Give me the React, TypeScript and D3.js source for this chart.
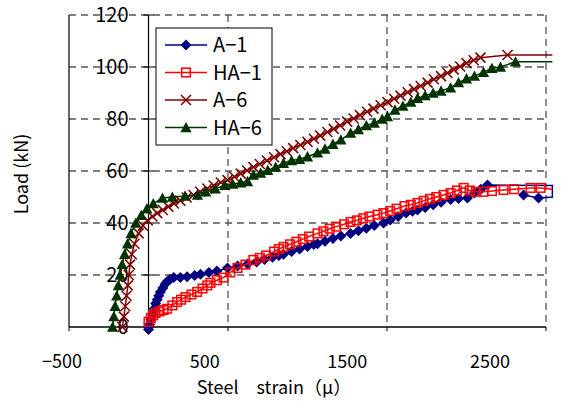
import * as d3 from "d3";

// strain (μ) , load (kN)
const a1X = [0, 8, 15, 25, 35, 45, 55, 65, 75, 90, 105, 117, 135, 159, 200, 243, 290, 327, 380, 430, 497, 560, 623, 680, 730, 780, 820, 849, 900, 950, 1000, 1040, 1063, 1110, 1160, 1210, 1271, 1320, 1370, 1420, 1478, 1520, 1570, 1620, 1660, 1692, 1740, 1790, 1840, 1900, 1950, 2006, 2050, 2090, 2132, 2540, 2540, 2453, 2359];
const a1Y = [-1, 1, 3, 5, 7, 9, 10.5, 12, 13.5, 15, 16.5, 17.5, 18.3, 19, 19, 19.3, 19.8, 20.3, 21, 21.5, 22.7, 23.5, 24.2, 25, 26, 26.8, 27.5, 28, 29, 30, 31, 31.7, 32, 33, 34, 35, 36, 37, 38, 39, 40, 41.2, 42.5, 43.8, 44.5, 45, 46, 47, 48, 49, 49.4, 49.6, 51.5, 53, 54.6, 54.4, 50, 49.6, 50.8];

const ha1X = [0, 15, 30, 44, 70, 95, 117, 150, 180, 205, 233, 270, 306, 340, 370, 390, 430, 472, 515, 560, 610, 660, 700, 740, 790, 820, 849, 890, 930, 970, 1010, 1063, 1100, 1140, 1180, 1230, 1271, 1310, 1350, 1390, 1440, 1478, 1520, 1560, 1610, 1650, 1692, 1730, 1770, 1810, 1856, 1900, 1940, 1982, 2020, 2060, 2107, 2160, 2233, 2300, 2403, 2466, 2540];
const ha1Y = [2, 3.5, 4.5, 5.4, 6, 6.5, 7, 8.3, 9.6, 10.5, 11.5, 12.5, 13.5, 14.8, 16, 17, 18, 19, 21, 22.7, 24, 25.8, 26.6, 27.5, 29, 30, 30.8, 31.8, 32.8, 33.8, 34.8, 36, 36.8, 37.8, 38.6, 39.5, 40.4, 41, 41.8, 42.5, 43.2, 43.8, 44.6, 45.5, 46.5, 47, 47.7, 48.5, 49.3, 50, 50.8, 51.5, 52.5, 53.5, 52.5, 52, 52, 52.3, 52.7, 53, 53.5, 53.5, 53];

const a6X = [-164, -155, -146, -138, -130, -124, -116, -105, -88, -62, -35, -5, 25, 55, 90, 125, 160, 200, 240, 283, 325, 370, 410, 455, 497, 540, 580, 620, 660, 700, 745, 790, 830, 870, 910, 955, 1000, 1040, 1080, 1125, 1165, 1205, 1250, 1290, 1330, 1375, 1415, 1460, 1503, 1545, 1585, 1630, 1670, 1712, 1755, 1795, 1840, 1880, 1920, 1960, 2000, 2045, 2088, 2258, 2540];
const a6Y = [0, 4, 8, 12, 16, 20, 24, 28, 32, 36, 39, 41, 42.5, 43.8, 45, 46.3, 47.5, 48.6, 49.8, 50.8, 52, 53.3, 54.4, 55.6, 56.5, 57.8, 59, 60.2, 61.5, 62.7, 64, 65.3, 66.5, 67.6, 68.8, 70, 71.2, 72.4, 73.6, 75, 76.2, 77.5, 79, 80.2, 81.5, 82.8, 84, 85.3, 86.5, 87.8, 89, 90.3, 91.5, 92.7, 94, 95.3, 96.5, 97.7, 99, 100.2, 101.5, 102.6, 103.6, 104.6, 104.6];

const ha6X = [-226, -218, -210, -200, -190, -178, -166, -150, -132, -110, -80, -45, -10, 30, 88, 150, 230, 308, 360, 420, 480, 530, 580, 623, 660, 705, 750, 800, 849, 900, 950, 1000, 1063, 1110, 1160, 1210, 1271, 1320, 1370, 1420, 1470, 1503, 1550, 1600, 1650, 1692, 1740, 1790, 1840, 1900, 1950, 2000, 2050, 2107, 2160, 2214, 2308, 2540];
const ha6Y = [0, 4, 8, 12, 16, 20, 24, 28, 32, 36, 40, 43, 45.5, 47.5, 49.6, 50, 50.4, 50.8, 52, 53.2, 54.5, 55, 55.5, 56, 58.5, 59.2, 60.3, 61.5, 63, 64, 64.5, 65.5, 67, 68.5, 70.3, 72, 74.6, 76, 77.5, 78.5, 80, 81, 83.5, 85, 86.5, 88, 89, 90, 90.8, 92, 94, 95.5, 96.5, 98, 99.5, 100, 102, 102];

const seriesNames = ["A-1", "HA-1", "A-6", "HA-6"];
const xTicks = [-500, 500, 1500, 2500];
const yTicks = [0, 20, 40, 60, 80, 100, 120];

const series = [
  { name: seriesNames[0], xs: a1X, ys: a1Y, color: "#000080", marker: "diamond" },
  { name: seriesNames[1], xs: ha1X, ys: ha1Y, color: "#ff0000", marker: "square" },
  { name: seriesNames[2], xs: a6X, ys: a6Y, color: "#800000", marker: "cross" },
  { name: seriesNames[3], xs: ha6X, ys: ha6Y, color: "#003300", marker: "triangle" },
];

const W = 579;
const H = 410;
const left = 69, right = 546, top = 15, bottom = 327;
const font = "'Noto Sans CJK JP', 'DejaVu Sans', sans-serif";

const x = d3.scaleLinear().domain([-500, 2500]).range([left, right]);
const y = d3.scaleLinear().domain([0, 120]).range([bottom, top]);
// tick labels sit slightly left of their grid lines in the original
const xLab = d3.scaleLinear().domain([-500, 2500]).range([62, 490]);

function Marker({ kind, cx, cy, color }: { kind: string; cx: number; cy: number; color: string }) {
  if (kind === "diamond") {
    const r = 5.5;
    return <path d={`M${cx},${cy - r}L${cx + r},${cy}L${cx},${cy + r}L${cx - r},${cy}Z`} fill={color} />;
  }
  if (kind === "square") {
    const r = 4.3;
    return <rect x={cx - r} y={cy - r} width={r * 2} height={r * 2} fill="none" stroke={color} strokeWidth={1.5} />;
  }
  if (kind === "cross") {
    const r = 5;
    return (
      <path d={`M${cx - r},${cy - r}L${cx + r},${cy + r}M${cx - r},${cy + r}L${cx + r},${cy - r}`} stroke={color} strokeWidth={1.5} />
    );
  }
  const r = 5.6;
  return <path d={`M${cx},${cy - r}L${cx + r},${cy + r * 0.85}L${cx - r},${cy + r * 0.85}Z`} fill={color} />;
}

export default function App() {
  return (
    <svg width={W} height={H} style={{ position: "absolute", left: 0, top: 0, background: "#fff" }}>
      {/* grid */}
      {yTicks.filter((t) => t > 0).map((t) => (
        <line key={"gy" + t} x1={left} x2={right} y1={y(t)} y2={y(t)} stroke="#555" strokeWidth={1.3} strokeDasharray="7,5" />
      ))}
      {[500, 1500, 2500].map((t) => (
        <line key={"gx" + t} x1={x(t)} x2={x(t)} y1={top} y2={bottom} stroke="#555" strokeWidth={1.3} strokeDasharray="7,5" />
      ))}
      <line x1={left} x2={left} y1={top} y2={bottom} stroke="#000" strokeWidth={1.2} />
      {/* axes */}
      <line x1={x(0)} x2={x(0)} y1={top} y2={bottom} stroke="#000" strokeWidth={1.2} />
      <line x1={left} x2={right} y1={y(0)} y2={y(0)} stroke="#000" strokeWidth={1.5} />
      {yTicks.map((t) => (
        <line key={"ty" + t} x1={x(0) - 5} x2={x(0) + 5} y1={y(t)} y2={y(t)} stroke="#000" />
      ))}
      {xTicks.map((t) => (
        <line key={"tx" + t} x1={x(t)} x2={x(t)} y1={y(0)} y2={y(0) + 4} stroke="#000" />
      ))}
      {yTicks.map((t) => (
        <text key={"ly" + t} x={x(0) - 20} y={y(t)} dy="0.36em" textAnchor="end" fontSize={20} fontFamily={font}>
          {t}
        </text>
      ))}
      {xTicks.map((t) => (
        <text key={"lx" + t} x={xLab(t)} y={362} dy="0.36em" textAnchor="middle" fontSize={18} fontFamily={font}>
          {t < 0 ? "\u2212" + Math.abs(t) : t}
        </text>
      ))}
      <text x={274} y={388} dy="0.36em" textAnchor="middle" fontSize={18} fontFamily={font}>
        Steel　strain（μ）
      </text>
      <text transform="translate(22,174) rotate(-90)" textAnchor="middle" dy="0.36em" fontSize={18} fontFamily={font}>
        Load (kN)
      </text>

      {/* series */}
      {series.map((s) => {
        const pts = s.xs.map((v, i) => [x(v), y(s.ys[i])] as [number, number]);
        const path = d3.line()(pts) || "";
        return (
          <g key={s.name}>
            <path d={path} fill="none" stroke={s.color} strokeWidth={1.5} />
            {s.xs.map((v, i) =>
              v <= 2500 ? <Marker key={i} kind={s.marker} cx={x(v)} cy={y(s.ys[i])} color={s.color} /> : null
            )}
          </g>
        );
      })}

      {/* legend */}
      <rect x={156} y={28} width={116} height={117} fill="#fff" stroke="#000" strokeWidth={1} />
      {series.map((s, i) => {
        const ly = 45 + i * 27.5;
        return (
          <g key={"lg" + s.name}>
            <line x1={165} x2={207} y1={ly} y2={ly} stroke={s.color} strokeWidth={1.5} />
            <Marker kind={s.marker} cx={186} cy={ly} color={s.color} />
            <text x={213} y={ly} dy="0.36em" fontSize={20} fontFamily={font}>
              {s.name.replace("-", "\u2212")}
            </text>
          </g>
        );
      })}
    </svg>
  );
}
